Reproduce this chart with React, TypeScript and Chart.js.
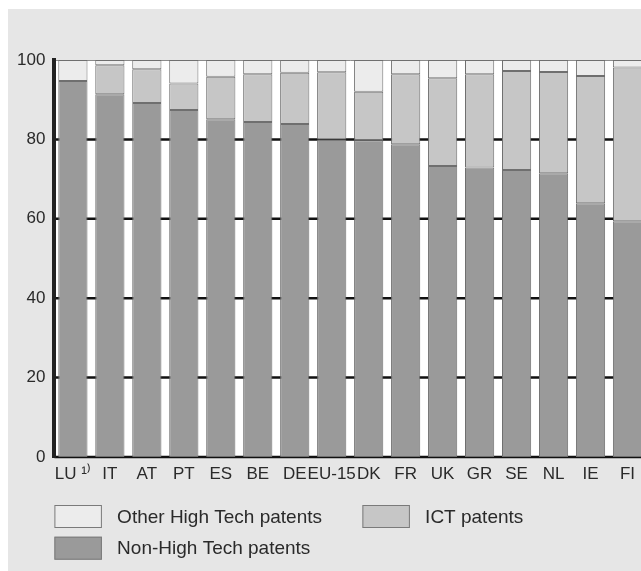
import React, { useEffect, useRef } from "react";
import { Chart, registerables } from "chart.js";

Chart.register(...registerables);

const categories = ["LU ¹⁾", "IT", "AT", "PT", "ES", "BE", "DE", "EU-15", "DK", "FR", "UK", "GR", "SE", "NL", "IE", "FI"];
const nonHighTech = [94.7, 91.4, 89.2, 87.4, 85.1, 84.4, 83.9, 80.0, 79.8, 78.8, 73.3, 72.9, 72.3, 71.5, 63.9, 59.4];
const ictPatents = [0, 7.3, 8.5, 6.7, 10.7, 12.0, 12.9, 16.9, 12.2, 17.6, 22.1, 23.5, 24.9, 25.5, 32.1, 38.7];
const otherHighTech = [5.3, 1.3, 2.3, 5.9, 4.2, 3.6, 3.2, 3.1, 8.0, 3.6, 4.6, 3.6, 2.8, 3.0, 4.0, 1.9];
const yTicks = [0, 20, 40, 60, 80, 100];
const legendLabels = ["Other High Tech patents", "ICT patents", "Non-High Tech patents"];

const COLOR_NON = "#9a9a9a";
const COLOR_ICT = "#c6c6c6";
const COLOR_OTHER = "#ececec";
const COLOR_BORDER = "#6f6f6f";
const COLOR_BG = "#e6e6e6";
const TEXT = "#2a2a2a";
const FONT = "'Liberation Sans', Arial, Helvetica, sans-serif";

// White plot background plus horizontal grid lines, drawn before the bars so
// that they only show in the white gaps between bars.
const plotBgPlugin = {
  id: "plotBg",
  beforeDatasetsDraw(chart: any) {
    const { ctx, chartArea } = chart;
    const yScale = chart.scales.y;
    ctx.save();
    ctx.fillStyle = "#ffffff";
    ctx.fillRect(chartArea.left, chartArea.top, chartArea.right - chartArea.left, chartArea.bottom - chartArea.top);
    for (const v of yTicks) {
      const py = yScale.getPixelForValue(v);
      const isTop = v === 100;
      ctx.strokeStyle = isTop ? "#8a8a8a" : "#111111";
      ctx.lineWidth = isTop ? 1 : 2.5;
      ctx.beginPath();
      ctx.moveTo(chartArea.left, isTop ? Math.round(py) + 0.5 : py);
      ctx.lineTo(chartArea.right, isTop ? Math.round(py) + 0.5 : py);
      ctx.stroke();
    }
    ctx.restore();
  },
};

const legendPlugin = {
  id: "customLegend",
  afterDraw(chart: any) {
    const { ctx, chartArea } = chart;
    const baseX = chartArea.left;
    const baseY = chartArea.bottom + 48;
    const boxW = 47.5;
    const boxH = 23;
    const colStep = 308;
    const rowStep = 31.7;
    const items = [
      { label: legendLabels[0], color: COLOR_OTHER, col: 0, row: 0 },
      { label: legendLabels[1], color: COLOR_ICT, col: 1, row: 0 },
      { label: legendLabels[2], color: COLOR_NON, col: 0, row: 1 },
    ];
    ctx.save();
    ctx.font = `19px ${FONT}`;
    ctx.textBaseline = "middle";
    ctx.textAlign = "left";
    for (const it of items) {
      const x = baseX + it.col * colStep;
      const y = baseY + it.row * rowStep;
      ctx.fillStyle = it.color;
      ctx.fillRect(x, y, boxW, boxH);
      ctx.strokeStyle = "#7a7a7a";
      ctx.lineWidth = 1;
      ctx.strokeRect(x + 0.5, y + 0.5, boxW - 1, boxH - 1);
      ctx.fillStyle = TEXT;
      ctx.fillText(it.label, x + 62.7, y + boxH / 2 + 1);
    }
    ctx.restore();
  },
};

export default function App() {
  const ref = useRef<HTMLCanvasElement | null>(null);

  useEffect(() => {
    if (!ref.current) return;
    const common = { borderColor: COLOR_BORDER, borderWidth: 1, borderSkipped: false as any, barPercentage: 0.79, categoryPercentage: 1.0 };
    const chart = new Chart(ref.current, {
      type: "bar",
      data: {
        labels: categories,
        datasets: [
          { label: legendLabels[2], data: nonHighTech, backgroundColor: COLOR_NON, ...common },
          { label: legendLabels[1], data: ictPatents, backgroundColor: COLOR_ICT, ...common },
          { label: legendLabels[0], data: otherHighTech, backgroundColor: COLOR_OTHER, ...common },
        ],
      },
      options: {
        animation: false,
        responsive: false,
        maintainAspectRatio: false,
        layout: { padding: { top: 51, left: 0, right: 0, bottom: 84 } },
        plugins: {
          legend: { display: false },
          tooltip: { enabled: false },
          title: { display: false },
        },
        scales: {
          x: {
            stacked: true,
            offset: true,
            grid: { display: false, drawTicks: false },
            border: { display: false },
            ticks: {
              autoSkip: false,
              maxRotation: 0,
              minRotation: 0,
              padding: 7,
              color: TEXT,
              font: { family: FONT, size: 17 },
            },
            afterFit(scale: any) {
              scale.height = 30;
            },
          },
          y: {
            stacked: true,
            min: 0,
            max: 100,
            afterBuildTicks(scale: any) {
              scale.ticks = yTicks.map((v) => ({ value: v }));
            },
            grid: { display: false, drawTicks: false },
            border: { display: true, color: "#222222", width: 4, z: 1 },
            ticks: {
              padding: 9,
              color: TEXT,
              font: { family: FONT, size: 17 },
            },
            afterFit(scale: any) {
              scale.width = 46.4;
            },
          },
        },
      },
      plugins: [plotBgPlugin, legendPlugin],
    });
    return () => chart.destroy();
  }, []);

  return (
    <div
      style={{
        position: "absolute",
        left: 8,
        top: 9,
        width: 633,
        height: 562,
        overflow: "hidden",
        background: COLOR_BG,
      }}
    >
      <canvas ref={ref} width={638} height={562} style={{ display: "block", width: 638, height: 562 }} />
    </div>
  );
}
